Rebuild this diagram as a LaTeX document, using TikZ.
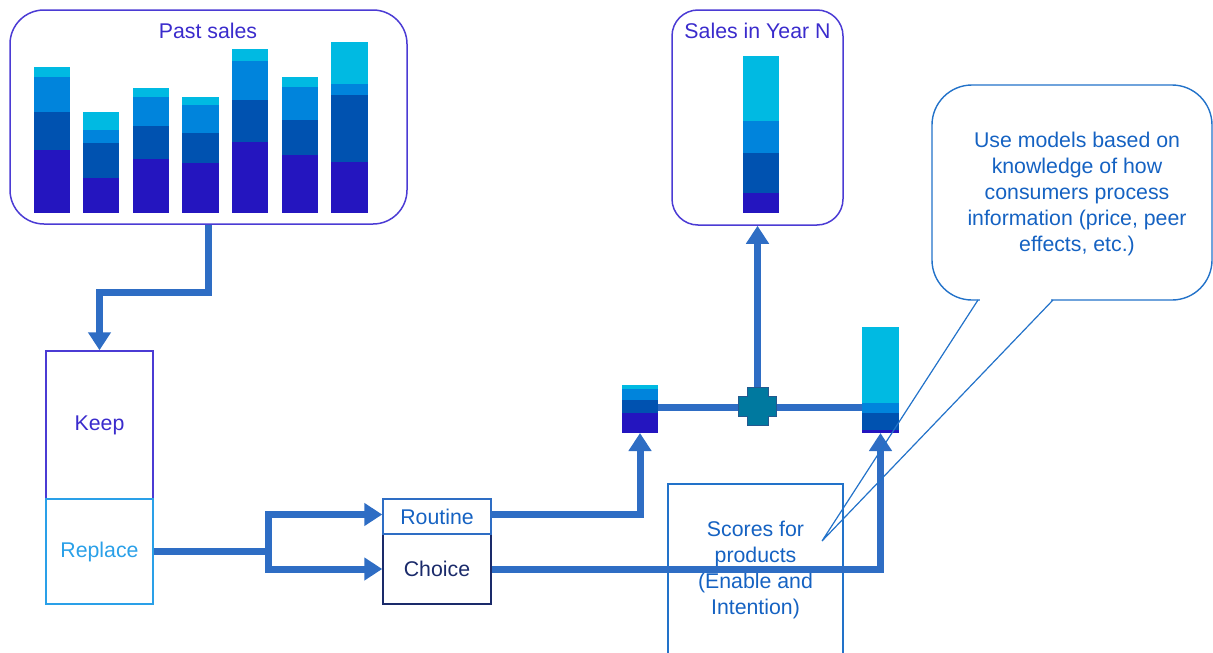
\documentclass[tikz,border=0pt]{standalone}
\usepackage{fontspec}
\setmainfont{Liberation Sans}
\usepackage{xcolor}
\usetikzlibrary{arrows.meta}

\definecolor{boxpurple}{HTML}{4B3BD4}
\definecolor{titlepurple}{HTML}{3A2BCC}
\definecolor{barcyan}{HTML}{00BAE2}
\definecolor{barblue}{HTML}{0084DC}
\definecolor{bardark}{HTML}{0052B0}
\definecolor{barpurple}{HTML}{2415BF}
\definecolor{flowblue}{HTML}{2E6DC4}
\definecolor{callblue}{HTML}{2272C9}
\definecolor{calltext}{HTML}{1562C2}
\definecolor{replblue}{HTML}{2AA0E8}
\definecolor{choicenavy}{HTML}{1A2A6A}
\definecolor{plusteal}{HTML}{00799F}
\definecolor{plusedge}{HTML}{24588F}

\begin{document}
\begin{tikzpicture}[x=1pt, y=-1pt,
    font=\fontsize{21.3}{26}\selectfont,
    box/.style={draw, line width=1.5pt, inner sep=0pt},
    flowline/.style={draw=flowblue, line width=7pt},
    flow/.style={flowline, -{Triangle[width=22pt,length=18pt]}},
    calloutline/.style={draw=callblue, line width=1.4pt}]
    \clip (0,0) rectangle (1213,653);

    % bar charts: left / top / cyan end / blue end / dark end / bottom / width
    \foreach \x/\a/\b/\c/\d/\e/\w in {34/67/77/112/150/213/36, 83/112/130/143/178/213/36,
        133/88/97/126/159/213/36, 182/97/105/133/163/213/37, 232/49/61/100/142/213/36,
        282/77/87/120/155/213/36, 331/42/84/95/162/213/37, 743/56/121/153/193/213/36,
        622/385/389/400/413/433/36, 862/327/403/413/430/433/37} {
      \fill[barcyan] (\x,\a) rectangle ({\x+\w},\b);
      \fill[barblue] (\x,\b) rectangle ({\x+\w},\c);
      \fill[bardark] (\x,\c) rectangle ({\x+\w},\d);
      \fill[barpurple] (\x,\d) rectangle ({\x+\w},\e);
    }

    % boxes
    \node[box, draw=boxpurple, rounded corners=34, minimum width=397, minimum height=214] (past) at (208.5,117) {};
    \node[text=titlepurple] (pasttitle) at (208,31) {Past sales};
    \node[box, draw=boxpurple, rounded corners=26, minimum width=171, minimum height=215] (sales) at (757.5,117.5) {};
    \node[text=titlepurple] (salestitle) at (757.5,31) {Sales in Year N};

    \node[box, draw=boxpurple, minimum width=107, minimum height=148, text=titlepurple] (keep) at (99.5,425) {Keep};
    \node[box, draw=replblue, minimum width=107, minimum height=105, text=replblue] (replace) at (99.5,551.5) {Replace};
    \node[box, draw=choicenavy, minimum width=108, minimum height=70, text=choicenavy] (choice) at (437,569) {Choice};
    \node[box, draw=flowblue, minimum width=108, minimum height=35, text=calltext] (routine) at (437,516.5) {Routine};
    \node[box, draw=callblue, line width=1.3pt, minimum width=175, minimum height=172] (scores) at (755.5,570) {};
    \node[text=calltext, align=center] (scorestext) at (755.5,570) {Scores for\\products\\(Enable and\\Intention)};

    % callout
    \draw[calloutline, rounded corners=40] (932,85) rectangle (1212,300);
    \coordinate (tip) at (822,541);
    \coordinate (tailL) at (978,300);
    \coordinate (tailR) at (1053,300);
    \draw[white, line width=3pt] (980,300) -- (1051,300);
    \node[text=calltext, align=center] (callout) at (1077,194)
      {Use models based on\\knowledge of how\\consumers process\\information (price, peer\\effects, etc.)};

    % connectors
    \coordinate (smallbar) at (640,433);
    \coordinate (bigbar) at (880.5,433);
    \coordinate (smallbarR) at (658,407);
    \coordinate (bigbarL) at (862,407);
    \coordinate (plus) at (757.5,406);

    \draw[flow] (past.south) -- ++(0,68) -| (keep.north);
    \draw[flowline] (replace.east) -- ++(115,0) coordinate (split);
    \draw[flow] (split) |- ([yshift=2]routine.west);
    \draw[flow] (split) |- (choice.west);
    \draw[flow] ([yshift=2]routine.east) -| (smallbar);
    \draw[flow] (choice.east) -| (bigbar);
    \draw[flowline] (smallbarR) -- (bigbarL);
    \draw[flow] (plus) -- (sales.south);

    % plus sign
    \draw[plusedge, fill=plusteal, line width=1pt]
      (plus) ++(-10.5,-19) -- ++(21,0) -- ++(0,9) -- ++(8.5,0) -- ++(0,20) -- ++(-8.5,0)
      -- ++(0,9) -- ++(-21,0) -- ++(0,-9) -- ++(-8.5,0) -- ++(0,-20) -- ++(8.5,0) -- cycle;

    % callout tail
    \draw[calloutline, line width=1.2pt] (tailL) -- (tip) -- (tailR);
\end{tikzpicture}
\end{document}
